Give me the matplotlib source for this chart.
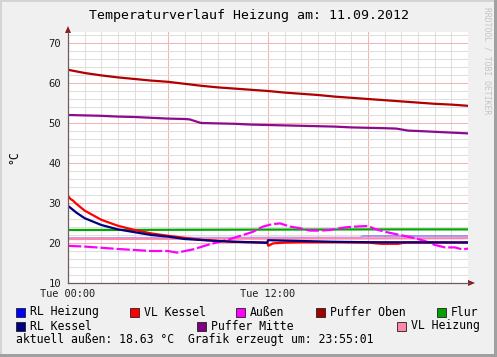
import matplotlib
matplotlib.use("Agg")
import matplotlib.pyplot as plt
from matplotlib.patches import Rectangle, Polygon
from matplotlib.ticker import MultipleLocator, FixedLocator

W, H = 497, 357
MONO = "DejaVu Sans Mono"

# ---------------- data ----------------
title = "Temperaturverlauf Heizung am: 11.09.2012"
unit_label = "°C"
footer = "aktuell außen: 18.63 °C  Grafik erzeugt um: 23:55:01"
watermark = "RRDTOOL / TOBI OETIKER"
x_tick_pos = [0, 6, 12, 18, 24]
x_tick_labels = ["Tue 00:00", "", "Tue 12:00", "", ""]
y_ticks = [10, 20, 30, 40, 50, 60, 70]

puffer_oben_t = list(range(25))
puffer_oben_v = [63.3, 62.5, 61.9, 61.4, 61.0, 60.6, 60.3, 59.8, 59.3, 58.9,
                 58.6, 58.3, 58.0, 57.6, 57.3, 57.0, 56.6, 56.3, 56.0, 55.7,
                 55.4, 55.1, 54.8, 54.6, 54.3]

puffer_mitte_t = [0, 1, 2, 3, 4, 5, 6, 7, 7.3, 7.9, 8, 9, 10, 11, 12, 13, 14,
                  15, 16, 17, 18, 19, 19.7, 20.4, 21, 22, 23, 24]
puffer_mitte_v = [52.0, 51.9, 51.8, 51.6, 51.5, 51.3, 51.1, 51.0, 50.9, 50.1,
                  50.0, 49.9, 49.8, 49.6, 49.5, 49.4, 49.3, 49.2, 49.1, 48.9,
                  48.8, 48.7, 48.6, 48.1, 48.0, 47.8, 47.6, 47.4]

flur_t = [0, 6, 12, 18, 24]
flur_v = [23.25, 23.3, 23.35, 23.4, 23.4]

vl_heizung_t = [0, 12, 24]
vl_heizung_v = [21.0, 21.1, 21.2]

rl_heizung_t = [0, 12, 17.5, 17.7, 24]
rl_heizung_v = [21.2, 21.3, 21.3, 21.7, 21.7]

rl_kessel_t = [0, 0.5, 1, 2, 3, 4, 5, 6, 7, 8, 9, 10, 11, 11.95, 12.0, 13, 14,
               15, 16, 17, 18, 24]
rl_kessel_v = [29.3, 27.6, 26.2, 24.5, 23.4, 22.7, 22.0, 21.6, 21.0, 20.75,
               20.5, 20.3, 20.2, 20.05, 20.7, 20.6, 20.5, 20.4, 20.3, 20.25,
               20.2, 20.15]

vl_kessel_t = [0, 0.15, 0.3, 0.5, 1, 2, 3, 4, 5, 6, 7, 8, 9, 10, 11, 11.95,
               12.02, 12.3, 13, 14, 16, 18, 18.8, 19.8, 20.2, 24]
vl_kessel_v = [31.8, 31.0, 30.6, 29.8, 28.1, 25.8, 24.3, 23.25, 22.4, 21.8,
               21.3, 20.8, 20.5, 20.3, 20.2, 20.1, 19.3, 19.9, 20.1, 20.2,
               20.2, 20.1, 19.8, 19.8, 20.1, 20.1]

aussen_t = [0, 1.02, 2.04, 3, 4.02, 4.98, 6, 6.54, 7.5, 8.52, 9.54, 10.5,
            11.1, 11.7, 12.24, 12.72, 13.32, 13.92, 14.52, 15.12, 15.72,
            16.62, 17.22, 18, 18.42, 19.02, 19.92, 20.82, 21.42, 22.02,
            22.62, 23.22, 23.64, 24]
aussen_v = [19.3, 19.1, 18.8, 18.5, 18.25, 18.0, 18.0, 17.6, 18.4, 19.7,
            20.75, 22.0, 22.8, 24.1, 24.7, 24.9, 24.1, 23.7, 23.1, 23.1,
            23.25, 23.9, 24.1, 24.25, 23.5, 22.8, 22.0, 21.2, 20.5, 19.5,
            18.9, 18.9, 18.4, 18.6]

legend_labels = ["RL Heizung", "VL Kessel", "Außen", "Puffer Oben", "Flur",
                 "RL Kessel", "Puffer Mitte", "VL Heizung"]
legend_colors = ["#0000FF", "#FF0000", "#FF00FF", "#A00000", "#00A000",
                 "#000080", "#800080", "#FF88AA"]

# ---------------- layout helpers ----------------
def fx(x):
    return x / W

def fy(y):
    return 1 - y / H

fig = plt.figure(figsize=(W / 100, H / 100), dpi=100, facecolor="#F0F0F0")

# frame
fig.patches.append(Rectangle((0, fy(2)), 1, 2 / H, transform=fig.transFigure,
                             facecolor="#D4D4D4", edgecolor="none"))
fig.patches.append(Rectangle((0, 0), 2 / W, 1, transform=fig.transFigure,
                             facecolor="#D4D4D4", edgecolor="none"))
fig.patches.append(Rectangle((0, 0), 1, 3 / H, transform=fig.transFigure,
                             facecolor="#A0A0A0", edgecolor="none"))
fig.patches.append(Rectangle((fx(494), 0), 3 / W, 1, transform=fig.transFigure,
                             facecolor="#A0A0A0", edgecolor="none"))

ax = fig.add_axes([fx(68), fy(283), 400 / W, 251 / H])
ax.set_facecolor("white")
ax.set_xlim(0, 24)
ax.set_ylim(10, 72.75)
for s in ax.spines.values():
    s.set_visible(False)

ax.xaxis.set_major_locator(FixedLocator(x_tick_pos))
ax.set_xticklabels(x_tick_labels)
ax.xaxis.set_minor_locator(MultipleLocator(1))
ax.yaxis.set_major_locator(FixedLocator(y_ticks))
ax.yaxis.set_minor_locator(MultipleLocator(2))
ax.grid(which="minor", color="#DEDEDE", linewidth=0.75)
ax.grid(which="major", color="#F4B4B4", linewidth=0.75)
ax.set_axisbelow(True)
ax.tick_params(which="both", length=0)
ax.tick_params(axis="x", pad=4.5, labelsize=7.4)
ax.tick_params(axis="y", pad=5, labelsize=7.6)
for lab in ax.get_xticklabels() + ax.get_yticklabels():
    lab.set_family(MONO)
    lab.set_color("#202020")

lw = 1.6
ax.plot(puffer_oben_t, puffer_oben_v, color="#B00000", lw=lw)
ax.plot(puffer_mitte_t, puffer_mitte_v, color="#8C0A8C", lw=lw)
ax.plot(flur_t, flur_v, color="#00A800", lw=lw)
ax.plot(rl_heizung_t, rl_heizung_v, color="#0000FF", lw=lw, alpha=0.35)
ax.plot(vl_heizung_t, vl_heizung_v, color="#FF88AA", lw=lw)
ax.plot(aussen_t, aussen_v, color="#FF00FF", lw=lw, linestyle=(0, (6, 1.3)))
ax.plot(vl_kessel_t, vl_kessel_v, color="#FF0000", lw=lw)
ax.plot(rl_kessel_t, rl_kessel_v, color="#000080", lw=lw)

# axes lines with arrows
axis_col = "#6E5A5A"
arrow_col = "#8B1C1C"
fig.add_artist(plt.Line2D([fx(68), fx(68)], [fy(283), fy(32)], color=axis_col,
                          lw=0.9, transform=fig.transFigure))
fig.add_artist(plt.Line2D([fx(68), fx(469)], [fy(283), fy(283)], color=axis_col,
                          lw=0.9, transform=fig.transFigure))
fig.patches.append(Polygon([(fx(65), fy(33)), (fx(71), fy(33)), (fx(68), fy(26))],
                           closed=True, transform=fig.transFigure,
                           facecolor=arrow_col, edgecolor="none"))
fig.patches.append(Polygon([(fx(468), fy(280)), (fx(468), fy(286)), (fx(475), fy(283))],
                           closed=True, transform=fig.transFigure,
                           facecolor=arrow_col, edgecolor="none"))

# texts
fig.text(fx(249), fy(16), title, family=MONO, fontsize=9.5, ha="center",
         va="center", color="#000000")
fig.text(fx(14), fy(157), unit_label, family=MONO, fontsize=8.3, ha="center",
         va="center", rotation=90)
fig.text(fx(487), fy(7), watermark, family=MONO, fontsize=5.8, ha="center",
         va="top", rotation=-90, color="#C4C4C4")

# legend
legend_pos = [(16, 312), (130, 312), (236, 312), (316, 312), (437, 312),
              (16, 326), (197, 326), (397, 326)]
for (px, py), lab, col in zip(legend_pos, legend_labels, legend_colors):
    fig.patches.append(Rectangle((fx(px), fy(py + 4.5)), 9 / W, 9 / H,
                                 transform=fig.transFigure, facecolor=col,
                                 edgecolor="#202020", linewidth=0.6))
    fig.text(fx(px + 14), fy(py), lab, family=MONO, fontsize=8.3,
             ha="left", va="center", color="#000000")
fig.text(fx(16), fy(340), footer, family=MONO, fontsize=8.3, ha="left",
         va="center", color="#000000")

fig.savefig("out.png", dpi=100, facecolor=fig.get_facecolor())
